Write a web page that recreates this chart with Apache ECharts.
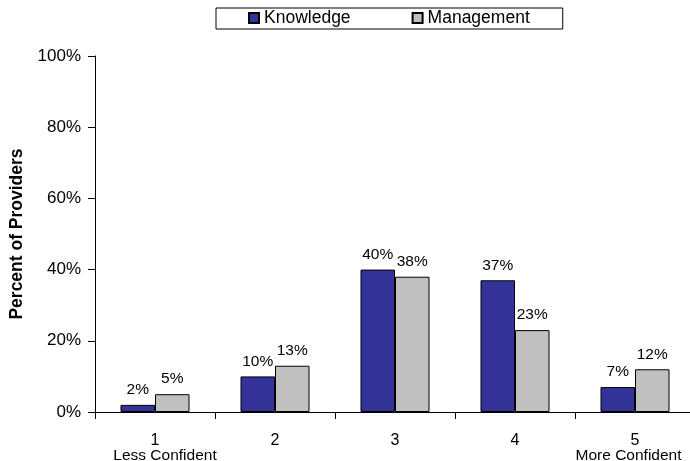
<!DOCTYPE html>
<html>
<head>
<meta charset="utf-8">
<script src="https://cdn.jsdelivr.net/npm/echarts@6/dist/echarts.min.js"></script>
<style>
  html, body { margin: 0; padding: 0; background: #fff; }
  #chart { width: 690px; height: 461px; }
</style>
</head>
<body>
<div id="chart"></div>
<script>
// Confidence rating categories (1 = less confident, 5 = more confident)
const categories = ['1', '2', '3', '4', '5'];
const categoryNotes = ['Less Confident', '', '', '', 'More Confident'];

// Percent of providers for each rating
const knowledge = [2, 10, 40, 37, 7];
const management = [5, 13, 38, 23, 12];

// Y axis ticks (percent)
const yTicks = [0, 20, 40, 60, 80, 100];

const FONT = "'Liberation Sans', Arial, Helvetica, sans-serif";

const chart = echarts.init(document.getElementById('chart'), null, { renderer: 'canvas' });

const barLabel = {
  show: true,
  position: 'top',
  distance: 7,
  color: '#000',
  fontFamily: FONT,
  fontSize: 15.5,
  formatter: p => p.value + '%'
};

chart.setOption({
  animation: false,
  backgroundColor: '#fff',
  textStyle: { fontFamily: FONT, color: '#000' },
  legend: {
    left: 216,
    top: 8,
    padding: [1, 33, 2, 32],
    itemGap: 61,
    itemWidth: 10,
    itemHeight: 10,
    icon: 'rect',
    borderColor: '#000',
    borderWidth: 1,
    borderRadius: 0,
    textStyle: { fontFamily: FONT, fontSize: 17.5, color: '#000' },
    data: ['Knowledge', 'Management']
  },
  // plot runs slightly past the right edge of the canvas
  grid: {
    left: 95,
    top: 56,
    width: 600,
    height: 356,
    outerBoundsMode: 'none',
    containLabel: false
  },
  xAxis: {
    type: 'category',
    data: categories,
    boundaryGap: true,
    axisLine: { show: true, lineStyle: { color: '#000', width: 1 } },
    axisTick: { show: true, inside: false, length: 7, alignWithLabel: false, lineStyle: { color: '#000' } },
    splitLine: { show: false },
    axisLabel: {
      margin: 21,
      interval: 0,
      color: '#000',
      formatter: (v, i) => {
        const note = categoryNotes[i];
        if (!note) return '{n|' + v + '}';
        const style = i === 0 ? 'l' : 'r';
        return '{n|' + v + '}\n{' + style + '|' + note + '}';
      },
      rich: {
        n: { fontFamily: FONT, fontSize: 16, lineHeight: 16, color: '#000' },
        l: { fontFamily: FONT, fontSize: 15.5, lineHeight: 13, color: '#000', padding: [0, 0, 0, 20] },
        r: { fontFamily: FONT, fontSize: 15.5, lineHeight: 13, color: '#000', padding: [0, 13, 0, 0] }
      }
    }
  },
  yAxis: {
    type: 'value',
    min: yTicks[0],
    max: yTicks[yTicks.length - 1],
    interval: yTicks[1] - yTicks[0],
    name: 'Percent of Providers',
    nameLocation: 'middle',
    nameGap: 69,
    nameRotate: 90,
    nameTextStyle: { fontFamily: FONT, fontSize: 17.5, fontWeight: 'bold', color: '#000' },
    axisLine: { show: true, lineStyle: { color: '#000', width: 1 } },
    axisTick: { show: true, inside: false, length: 7, lineStyle: { color: '#000' } },
    splitLine: { show: false },
    axisLabel: {
      margin: 14,
      color: '#000',
      fontFamily: FONT,
      fontSize: 17,
      formatter: '{value}%'
    }
  },
  series: [
    {
      name: 'Knowledge',
      type: 'bar',
      data: knowledge,
      barWidth: 34.5,
      barGap: '0%',
      itemStyle: { color: '#333399', borderColor: '#000', borderWidth: 1 },
      label: barLabel
    },
    {
      name: 'Management',
      type: 'bar',
      data: management,
      barWidth: 34.5,
      barGap: '0%',
      itemStyle: { color: '#C0C0C0', borderColor: '#000', borderWidth: 1 },
      label: barLabel
    }
  ]
});
</script>
</body>
</html>
